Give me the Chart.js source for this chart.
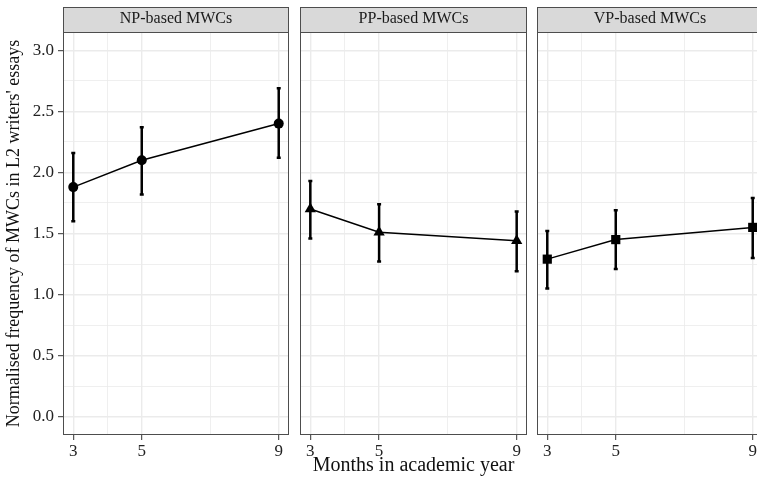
<!DOCTYPE html>
<html>
<head>
<meta charset="utf-8">
<script src="https://cdn.jsdelivr.net/npm/chart.js@4"></script>
<style>
  html, body { margin: 0; padding: 0; background: #fff; overflow: hidden; }
  body { width: 757px; height: 478px; position: relative; }
  canvas { position: absolute; top: 0; }
</style>
</head>
<body>
<canvas id="np" width="290" height="478" style="left:0"></canvas>
<canvas id="pp" width="240" height="478" style="left:290px"></canvas>
<canvas id="vp" width="236" height="478" style="left:530px"></canvas>
<script>
const months = [3, 5, 9];
const panelTitles = ["NP-based MWCs", "PP-based MWCs", "VP-based MWCs"];
const xGridTicks = [3, 4, 5, 7, 9];
const yGridTicks = [0, 0.25, 0.5, 0.75, 1, 1.25, 1.5, 1.75, 2, 2.25, 2.5, 2.75, 3];

const npMean = [1.88, 2.10, 2.40];
const npLow = [1.60, 1.82, 2.12];
const npHigh = [2.16, 2.37, 2.69];

const ppMean = [1.70, 1.51, 1.44];
const ppLow = [1.46, 1.27, 1.19];
const ppHigh = [1.93, 1.74, 1.68];

const vpMean = [1.29, 1.45, 1.55];
const vpLow = [1.05, 1.21, 1.30];
const vpHigh = [1.52, 1.69, 1.79];

const serif = "'Liberation Serif', 'DejaVu Serif', serif";
const isMajorY = v => Math.abs(v * 2 - Math.round(v * 2)) < 1e-9;
const isMajorX = v => months.includes(v);

// strip behind the facet title + panel border
const facetFrame = {
  id: "facetFrame",
  beforeDraw(chart) {
    const { ctx, chartArea: a } = chart;
    ctx.save();
    ctx.fillStyle = "#d9d9d9";
    ctx.strokeStyle = "#4d4d4d";
    ctx.lineWidth = 1;
    ctx.fillRect(a.left, 7, a.right - a.left, a.top - 7);
    ctx.strokeRect(a.left + 0.5, 7.5, a.right - a.left - 1, a.top - 7);
    ctx.restore();
  },
  afterDraw(chart) {
    const { ctx, chartArea: a } = chart;
    ctx.save();
    ctx.strokeStyle = "#4d4d4d";
    ctx.lineWidth = 1;
    ctx.strokeRect(a.left + 0.5, a.top + 0.5, a.right - a.left - 1, a.bottom - a.top - 1);
    ctx.restore();
  }
};

// vertical error bars from low/high arrays
const errorBars = {
  id: "errorBars",
  beforeDatasetsDraw(chart, args, opts) {
    const { ctx, scales: { x, y } } = chart;
    ctx.save();
    ctx.strokeStyle = "#000";
    ctx.lineWidth = 2.5;
    months.forEach((m, i) => {
      const px = x.getPixelForValue(m);
      const top = y.getPixelForValue(opts.high[i]);
      const bot = y.getPixelForValue(opts.low[i]);
      ctx.beginPath();
      ctx.moveTo(px, top);
      ctx.lineTo(px, bot);
      ctx.moveTo(px - 2, top);
      ctx.lineTo(px + 2, top);
      ctx.moveTo(px - 2, bot);
      ctx.lineTo(px + 2, bot);
      ctx.stroke();
    });
    ctx.restore();
  }
};

function makePanel(id, idx, mean, low, high, pointStyle, radius, opts) {
  const first = idx === 0;
  const middle = idx === 1;
  new Chart(document.getElementById(id), {
    type: "line",
    data: {
      datasets: [{
        data: months.map((m, i) => ({ x: m, y: mean[i] })),
        borderColor: "#000",
        backgroundColor: "#000",
        borderWidth: 1.5,
        pointStyle,
        pointRadius: radius,
        pointBorderWidth: 0,
        tension: 0,
        clip: false
      }]
    },
    options: {
      responsive: false,
      animation: false,
      devicePixelRatio: 1,
      layout: { autoPadding: false, padding: { left: 0, right: opts.right, top: 0, bottom: 0 } },
      plugins: {
        legend: { display: false },
        tooltip: { enabled: false },
        title: {
          display: true,
          text: panelTitles[idx],
          fullSize: false,
          color: "#1a1a1a",
          font: { family: serif, size: 16, weight: "normal" },
          padding: { top: 9, bottom: 3.8 }
        },
        errorBars: { low, high }
      },
      scales: {
        x: {
          type: "linear",
          min: 2.7,
          max: 9.3,
          afterBuildTicks: s => { s.ticks = xGridTicks.map(v => ({ value: v })); },
          afterFit: s => { s.height = 43; s.paddingLeft = 0; s.paddingRight = 0; },
          grid: {
            color: "#ebebeb",
            lineWidth: c => isMajorX(c.tick.value) ? 1.4 : 0.8,
            tickColor: c => isMajorX(c.tick.value) ? "#333" : "rgba(0,0,0,0)",
            tickWidth: 1,
            tickLength: 5
          },
          border: { display: false },
          ticks: {
            color: "#222",
            font: { family: serif, size: 17 },
            padding: 1,
            maxRotation: 0,
            autoSkip: false,
            callback: v => isMajorX(v) ? String(v) : ""
          },
          title: {
            display: middle,
            text: "Months in academic year",
            color: "#111",
            font: { family: serif, size: 20 },
            padding: { top: 0, bottom: 0 }
          }
        },
        y: {
          type: "linear",
          min: -0.15,
          max: 3.15,
          afterBuildTicks: s => { s.ticks = yGridTicks.map(v => ({ value: v })); },
          afterFit: s => { s.width = opts.left; },
          grid: {
            color: "#ebebeb",
            lineWidth: c => isMajorY(c.tick.value) ? 1.4 : 0.8,
            tickColor: c => first && isMajorY(c.tick.value) ? "#333" : "rgba(0,0,0,0)",
            tickWidth: 1,
            tickLength: first ? 5 : 0,
            drawTicks: first
          },
          border: { display: false },
          ticks: {
            display: first,
            color: "#222",
            font: { family: serif, size: 17 },
            padding: 4,
            autoSkip: false,
            callback: v => isMajorY(v) ? v.toFixed(1) : ""
          },
          title: {
            display: first,
            text: "Normalised frequency of MWCs in L2 writers' essays",
            color: "#111",
            font: { family: serif, size: 18 },
            padding: { top: 3, bottom: 0 }
          }
        }
      }
    },
    plugins: [facetFrame, errorBars]
  });
}

makePanel("np", 0, npMean, npLow, npHigh, "circle", 5, { left: 63, right: 1 });
makePanel("pp", 1, ppMean, ppLow, ppHigh, "triangle", 6.5, { left: 10, right: 3 });
makePanel("vp", 2, vpMean, vpLow, vpHigh, "rect", 6.5, { left: 7, right: 3 });
</script>
</body>
</html>
